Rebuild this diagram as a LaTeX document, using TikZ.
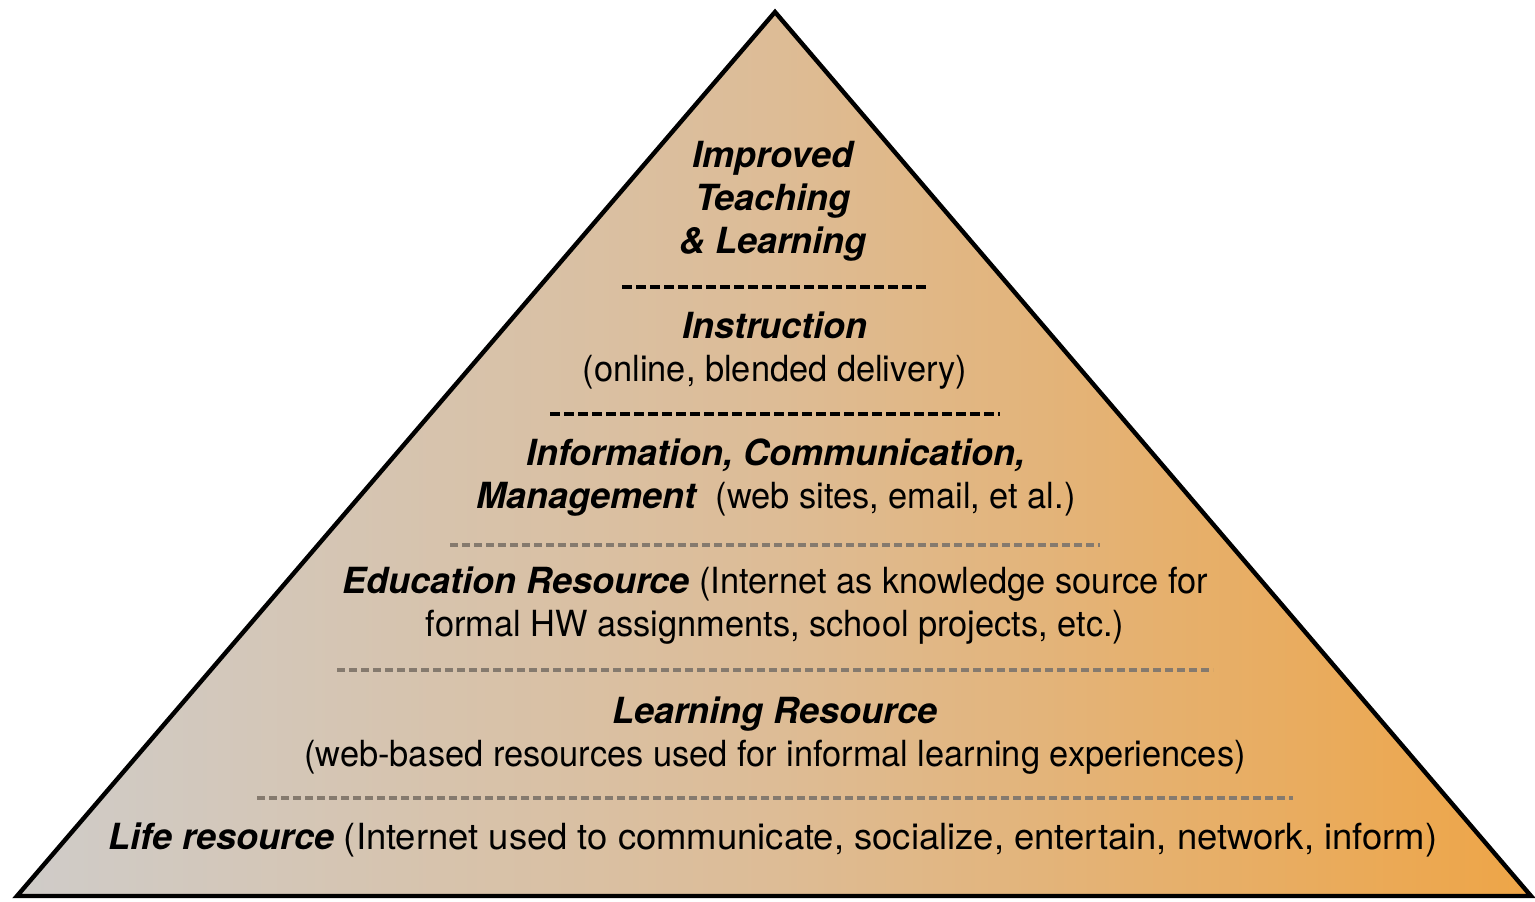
\documentclass[tikz,border=0pt]{standalone}
\usepackage{fontspec}
\usepackage{graphicx}
\setmainfont{TeX Gyre Heros}[UprightFeatures={FakeStretch=0.955}]
\definecolor{leftgrey}{HTML}{CFCCC9}
\definecolor{midtan}{HTML}{DDBC96}
\definecolor{rightorange}{HTML}{EEA547}
\definecolor{dashgrey}{HTML}{857A6E}
\begin{document}
\begin{tikzpicture}[x=0.5pt,y=-0.5pt,
  heavydash/.style={draw=black,line width=2pt,dash pattern=on 5pt off 2pt},
  lightdash/.style={draw=dashgrey,line width=1.8pt,dash pattern=on 4pt off 2pt},
  txt/.style={inner sep=0pt,align=center,font=\fontsize{18}{21.5}\selectfont}]
\useasboundingbox (0,0) rectangle (1535,901);
\coordinate (apex) at (775,12);
\coordinate (bl) at (17,896);
\coordinate (br) at (1531,896);
\shade[left color=leftgrey,right color=rightorange,middle color=midtan] (apex) -- (br) -- (bl) -- cycle;
\draw[line width=2.2pt,line join=miter] (apex) -- (br) -- (bl) -- cycle;
% separators
\coordinate (d1a) at (622,287); \coordinate (d1b) at (927,287);
\coordinate (d2a) at (550,414); \coordinate (d2b) at (1000,414);
\coordinate (d3a) at (450,545); \coordinate (d3b) at (1100,545);
\coordinate (d4a) at (337,670); \coordinate (d4b) at (1213,670);
\coordinate (d5a) at (257,798); \coordinate (d5b) at (1293,798);
\draw[heavydash] (d1a) -- (d1b);
\draw[heavydash] (d2a) -- (d2b);
\draw[lightdash] (d3a) -- (d3b);
\draw[lightdash] (d4a) -- (d4b);
\draw[lightdash] (d5a) -- (d5b);
% texts
\node[txt] (t1) at (773,201) {\bfseries\itshape Improved\\\bfseries\itshape Teaching\\\bfseries\itshape \& Learning};
\node[txt] (t2) at (775,351) {\bfseries\itshape Instruction\\(online, blended delivery)};
\node[txt] (t3) at (776,478) {\bfseries\itshape Information, Communication,\\{\bfseries\itshape Management}\ \ (web sites, email, et al.)};
\node[txt] (t4) at (775,606) {{\bfseries\itshape Education Resource} (Internet as knowledge source for\\formal HW assignments, school projects, etc.)};
\node[txt] (t5) at (775,736) {\bfseries\itshape Learning Resource\\(web-based resources used for informal learning experiences)};
\node[txt] (t6) at (773,840) {{\bfseries\itshape Life resource} \scalebox{1.06}[1]{(Internet used to communicate, socialize, entertain, network, inform)}};
\end{tikzpicture}
\end{document}
